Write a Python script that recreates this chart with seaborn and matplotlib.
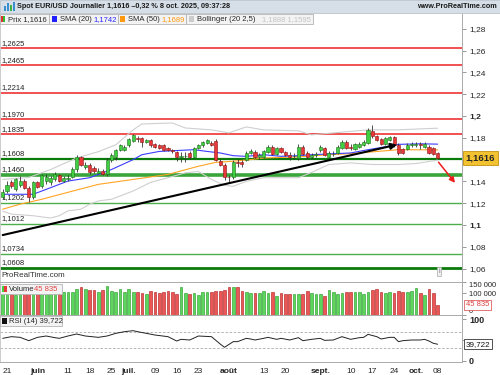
import matplotlib
matplotlib.use("Agg")
import matplotlib.pyplot as plt
import matplotlib.transforms as mtransforms
from matplotlib.patches import Rectangle
import seaborn as sns

# DATA (EUR/USD daily, 21 May -> 8 Oct 2025)

days = list(range(101))

opens = [1.1260, 1.1310, 1.1390, 1.1330, 1.1370, 1.1400, 1.1340, 1.1260, 1.1390, 1.1360,
         1.1400, 1.1390, 1.1420, 1.1460, 1.1400, 1.1425, 1.1445, 1.1510, 1.1620, 1.1530,
         1.1555, 1.1525, 1.1480, 1.1495, 1.1465, 1.1600, 1.1620, 1.1690, 1.1690, 1.1735,
         1.1770, 1.1800, 1.1800, 1.1765, 1.1780, 1.1740, 1.1735, 1.1735, 1.1710, 1.1690,
         1.1670, 1.1625, 1.1630, 1.1664, 1.1627, 1.1710, 1.1736, 1.1755, 1.1755, 1.1773,
         1.1590, 1.1555, 1.1440, 1.1436, 1.1580, 1.1580, 1.1600, 1.1664, 1.1673, 1.1627,
         1.1627, 1.1673, 1.1718, 1.1655, 1.1710, 1.1673, 1.1645, 1.1630, 1.1618, 1.1718,
         1.1664, 1.1627, 1.1640, 1.1690, 1.1710, 1.1627, 1.1650, 1.1664, 1.1710, 1.1764,
         1.1720, 1.1700, 1.1720, 1.1736, 1.1755, 1.1864, 1.1818, 1.1790, 1.1745, 1.1780,
         1.1810, 1.1736, 1.1700, 1.1700, 1.1730, 1.1736, 1.1745, 1.1720, 1.1718, 1.1710,
         1.1664]
highs = [1.1330, 1.1400, 1.1410, 1.1430, 1.1450, 1.1420, 1.1360, 1.1400, 1.1400, 1.1470,
         1.1470, 1.1450, 1.1490, 1.1470, 1.1450, 1.1460, 1.1530, 1.1640, 1.1630, 1.1580,
         1.1570, 1.1540, 1.1520, 1.1510, 1.1615, 1.1660, 1.1700, 1.1745, 1.1730, 1.1795,
         1.1835, 1.1820, 1.1810, 1.1790, 1.1790, 1.1750, 1.1745, 1.1740, 1.1720, 1.1700,
         1.1680, 1.1670, 1.1670, 1.1680, 1.1720, 1.1745, 1.1775, 1.1790, 1.1770, 1.1790,
         1.1610, 1.1570, 1.1460, 1.1600, 1.1610, 1.1600, 1.1675, 1.1700, 1.1690, 1.1660,
         1.1690, 1.1730, 1.1730, 1.1720, 1.1720, 1.1680, 1.1670, 1.1660, 1.1740, 1.1730,
         1.1680, 1.1660, 1.1670, 1.1730, 1.1720, 1.1680, 1.1675, 1.1730, 1.1780, 1.1780,
         1.1740, 1.1755, 1.1760, 1.1780, 1.1890, 1.1918, 1.1830, 1.1800, 1.1810, 1.1820,
         1.1820, 1.1750, 1.1710, 1.1750, 1.1760, 1.1760, 1.1760, 1.1760, 1.1730, 1.1720,
         1.1670]
lows = [1.1240, 1.1290, 1.1340, 1.1310, 1.1350, 1.1330, 1.1215, 1.1240, 1.1340, 1.1340,
        1.1380, 1.1370, 1.1400, 1.1390, 1.1390, 1.1400, 1.1430, 1.1490, 1.1540, 1.1510,
        1.1470, 1.1480, 1.1470, 1.1460, 1.1450, 1.1580, 1.1600, 1.1680, 1.1680, 1.1720,
        1.1760, 1.1760, 1.1720, 1.1750, 1.1720, 1.1710, 1.1700, 1.1680, 1.1680, 1.1660,
        1.1590, 1.1580, 1.1580, 1.1610, 1.1615, 1.1700, 1.1720, 1.1745, 1.1725, 1.1590,
        1.1540, 1.1410, 1.1395, 1.1420, 1.1530, 1.1530, 1.1590, 1.1650, 1.1615, 1.1610,
        1.1615, 1.1665, 1.1640, 1.1640, 1.1660, 1.1630, 1.1600, 1.1610, 1.1600, 1.1640,
        1.1610, 1.1605, 1.1620, 1.1670, 1.1635, 1.1610, 1.1630, 1.1650, 1.1700, 1.1700,
        1.1690, 1.1690, 1.1710, 1.1725, 1.1745, 1.1800, 1.1770, 1.1730, 1.1730, 1.1770,
        1.1720, 1.1645, 1.1650, 1.1690, 1.1715, 1.1720, 1.1700, 1.1710, 1.1650, 1.1640,
        1.1605]
closes = [1.1300, 1.1370, 1.1360, 1.1420, 1.1400, 1.1340, 1.1260, 1.1390, 1.1350, 1.1460,
          1.1445, 1.1430, 1.1470, 1.1400, 1.1435, 1.1435, 1.1510, 1.1620, 1.1555, 1.1555,
          1.1485, 1.1495, 1.1500, 1.1470, 1.1600, 1.1645, 1.1690, 1.1735, 1.1720, 1.1790,
          1.1825, 1.1790, 1.1760, 1.1780, 1.1730, 1.1720, 1.1710, 1.1690, 1.1690, 1.1675,
          1.1620, 1.1636, 1.1630, 1.1627, 1.1710, 1.1736, 1.1764, 1.1780, 1.1736, 1.1600,
          1.1555, 1.1436, 1.1436, 1.1580, 1.1570, 1.1560, 1.1664, 1.1680, 1.1627, 1.1645,
          1.1680, 1.1718, 1.1655, 1.1710, 1.1673, 1.1645, 1.1627, 1.1636, 1.1718, 1.1650,
          1.1627, 1.1645, 1.1655, 1.1718, 1.1645, 1.1664, 1.1655, 1.1718, 1.1764, 1.1710,
          1.1710, 1.1745, 1.1745, 1.1764, 1.1873, 1.1818, 1.1780, 1.1745, 1.1800, 1.1810,
          1.1736, 1.1664, 1.1664, 1.1736, 1.1740, 1.1745, 1.1736, 1.1745, 1.1664, 1.1655,
          1.1616]

# volume in thousands
volumes = [108, 101, 109, 92, 112, 107, 115, 108, 105, 109,
           101, 107, 112, 105, 104, 104, 104, 118, 130, 120,
           115, 115, 104, 115, 134, 111, 104, 120, 107, 118,
           107, 104, 100, 96, 111, 104, 100, 104, 109, 104,
           96, 130, 100, 96, 100, 92, 104, 104, 104, 111,
           111, 115, 130, 130, 130, 111, 107, 100, 100, 100,
           111, 100, 104, 89, 100, 96, 96, 96, 96, 96,
           111, 100, 96, 96, 89, 115, 104, 96, 100, 104,
           104, 104, 107, 96, 107, 115, 120, 104, 100, 104,
           100, 111, 104, 104, 111, 122, 100, 92, 118, 100,
           45.835]

sma20_days = [0, 7, 9, 15, 20, 22, 25, 30, 32, 36, 41, 44, 47, 50, 53, 56, 60, 64, 68, 71,
              75, 80, 84, 88, 91, 96, 100]
sma20 = [1.1282, 1.1282, 1.1312, 1.1403, 1.1434, 1.1464, 1.1509, 1.1600, 1.1645, 1.1675,
         1.1685, 1.1691, 1.1675, 1.1661, 1.1636, 1.1630, 1.1645, 1.1630, 1.1636, 1.1645,
         1.1652, 1.1661, 1.1691, 1.1718, 1.1740, 1.1745, 1.1742]

sma50_days = [0, 4, 9, 15, 22, 30, 38, 45, 49, 53, 57, 60, 68, 75, 80, 91, 100]
sma50 = [1.1145, 1.1191, 1.1236, 1.1300, 1.1373, 1.1418, 1.1464, 1.1539, 1.1575, 1.1585,
         1.1600, 1.1615, 1.1625, 1.1645, 1.1655, 1.1691, 1.1689]

boll_up_days = [0, 6, 11, 17, 22, 26, 30, 32, 39, 42, 48, 52, 56, 60, 68, 71, 76, 84, 91, 96, 100]
boll_up = [1.1418, 1.1436, 1.1509, 1.1615, 1.1673, 1.1736, 1.1873, 1.1927, 1.1936, 1.1890,
           1.1873, 1.1845, 1.1900, 1.1873, 1.1864, 1.1827, 1.1845, 1.1873, 1.1873, 1.1882, 1.1888]

boll_low_days = [0, 2, 7, 11, 13, 15, 18, 20, 22, 25, 30, 34, 38, 42, 45, 48, 51, 53, 56, 60,
                 68, 71, 75, 80, 85, 91, 95, 100]
boll_low = [1.1127, 1.1100, 1.1085, 1.1064, 1.1085, 1.1130, 1.1145, 1.1191, 1.1221, 1.1236,
            1.1312, 1.1391, 1.1434, 1.1479, 1.1491, 1.1418, 1.1364, 1.1355, 1.1400, 1.1434,
            1.1434, 1.1482, 1.1555, 1.1570, 1.1555, 1.1555, 1.1564, 1.1595]

rsi_days = [0, 2, 4, 6, 8, 10, 12, 13, 15, 17, 19, 22, 24, 26, 28, 30, 31, 33, 35, 38,
            40, 41, 43, 45, 48, 50, 51, 53, 54, 56, 57, 58, 60, 61, 63, 64, 66, 68, 69, 70,
            71, 73, 74, 76, 77, 78, 80, 82, 83, 84, 86, 87, 89, 90, 91, 92, 94, 96, 97, 98,
            99, 100]
rsi = [53.9, 57.9, 56.3, 48.3, 56.3, 59.5, 55.5, 53.9, 59.5, 64.3, 59.5, 56.3, 59.5, 65.9,
       69.9, 72.3, 69.9, 65.9, 61.9, 57.9, 47.5, 51.5, 49.9, 59.5, 57.9, 40.3, 32.3, 45.9,
       45.9, 53.9, 52.3, 49.9, 53.9, 56.3, 51.5, 53.9, 49.9, 55.5, 48.3, 49.9, 51.5, 53.9,
       49.1, 49.9, 53.9, 57.9, 51.5, 55.5, 56.3, 63.5, 57.9, 52.3, 56.3, 56.3, 45.9, 48.3,
       49.9, 49.9, 51.5, 47.5, 42.0, 39.7]

res_levels = [1.2625, 1.2465, 1.2214, 1.1970, 1.1835]
sup_levels = [1.1608, 1.1460, 1.1202, 1.1012, 1.0734, 1.0608]

trend_days = [-0.62, 91.3]
trend_prices = [1.0902, 1.1743]
target_days = [99.8, 104.4]
target_prices = [1.1596, 1.1367]

price_ticks = [1.06, 1.08, 1.1, 1.12, 1.14, 1.16, 1.18, 1.2, 1.22, 1.24, 1.26, 1.28]
price_labels = ["1,06", "1,08", "1,1", "1,12", "1,14", "", "1,18", "1,2", "1,22", "1,24", "1,26", "1,28"]

date_ticks = [0, 8, 15, 20, 25, 29, 35, 40, 45, 52, 60, 65, 73, 80, 85, 90, 95, 100]
date_labels = ["21", "juin", "11", "18", "25", "juil.", "09", "16", "23", "août", "13", "20",
               "sept.", "10", "17", "24", "oct.", "08"]
month_labels = ["juin", "juil.", "août", "sept.", "oct."]

# STYLE

sns.set_style("white")
plt.rcParams["font.family"] = ["Liberation Sans", "DejaVu Sans"]

W, H = 500, 375


def rect(top, bottom, left=0, right=462):
    return [left / W, 1 - bottom / H, (right - left) / W, (bottom - top) / H]


def fp(x, y):
    return x / W, 1 - y / H


fig = plt.figure(figsize=(5, 3.75), dpi=100)
fig.patch.set_facecolor("white")

ax = fig.add_axes(rect(14, 282))
axv = fig.add_axes(rect(282, 315), sharex=ax)
axr = fig.add_axes(rect(315, 362), sharex=ax)

UP, DOWN = "#3fcf3f", "#e8383a"
UP_EDGE, DOWN_EDGE = "#1f6f1f", "#8a1515"

# HORIZONTAL LEVELS

lab_tr = mtransforms.blended_transform_factory(ax.transAxes, ax.transData)
for lv in res_levels:
    ax.axhline(lv, color="#ee2020", lw=1.1, zorder=1)
    ax.text(0.004, lv + 0.0012, f"{lv:.4f}".replace(".", ","), transform=lab_tr,
            fontsize=5.5, va="bottom", ha="left", color="#222222")
sup_style = {1.1608: ("#0a7a0a", 1.6), 1.1460: ("#3aa53a", 2.6), 1.0608: ("#0a7a0a", 2.0)}
for lv in sup_levels:
    c, w = sup_style.get(lv, ("#4cae4c", 1.0))
    ax.axhline(lv, color=c, lw=w, zorder=1)
    ax.text(0.004, lv + 0.0016, f"{lv:.4f}".replace(".", ","), transform=lab_tr,
            fontsize=5.5, va="bottom", ha="left", color="#222222")

# INDICATORS

sns.lineplot(x=boll_up_days, y=boll_up, ax=ax, color="#cfcfcf", lw=0.8, zorder=2)
sns.lineplot(x=boll_low_days, y=boll_low, ax=ax, color="#cfcfcf", lw=0.8, zorder=2)
sns.lineplot(x=sma50_days, y=sma50, ax=ax, color="#ffa424", lw=0.8, zorder=2)
sns.lineplot(x=sma20_days, y=sma20, ax=ax, color="#3c3cff", lw=0.8, zorder=2)

# CANDLES

for d, o, h, l, c in zip(days, opens, highs, lows, closes):
    up = c >= o
    ax.vlines(d, l, h, color="#333333", lw=0.6, zorder=3)
    ax.bar(d, max(abs(c - o), 0.0004), bottom=min(o, c), width=0.72,
           color=UP if up else DOWN, edgecolor=UP_EDGE if up else DOWN_EDGE,
           lw=0.4, zorder=4)

# TREND LINE + TARGET ARROW

ax.annotate("", xy=(trend_days[1], trend_prices[1]), xytext=(trend_days[0], trend_prices[0]),
            arrowprops=dict(arrowstyle="-|>", color="black", lw=1.5, mutation_scale=9),
            zorder=5)
ax.annotate("", xy=(target_days[1], target_prices[1]), xytext=(target_days[0], target_prices[0]),
            arrowprops=dict(arrowstyle="-|>", color="#ee1c1c", lw=1.1, mutation_scale=8),
            zorder=5)

ax.set_xlim(-0.62, 105.6)
ax.set_ylim(1.0477, 1.2936)
ax.yaxis.tick_right()
ax.set_yticks(price_ticks)
ax.set_yticklabels(price_labels)
for t, lab in zip(ax.get_yticklabels(), price_labels):
    if lab in ("1,1", "1,2"):
        t.set_fontweight("bold")
ax.tick_params(axis="y", length=3, width=0.6, color="#888888", labelsize=6, pad=2)
ax.tick_params(axis="x", length=0, labelbottom=False)

ax.text(1.008, closes[-1], "1,1616", transform=mtransforms.blended_transform_factory(
    ax.transAxes, ax.transData), fontsize=6.8, fontweight="bold", va="center", ha="left",
    bbox=dict(boxstyle="square,pad=0.25", fc="#f2c230", ec="#c09010", lw=0.6),
    clip_on=False, zorder=10)
ax.text(0.004, 0.012, "ProRealTime.com", transform=ax.transAxes, fontsize=5.8,
        color="#333333", va="bottom")
ax.text(0.95, 0.025, "i", transform=ax.transAxes, fontsize=5, color="#777777", ha="center",
        va="bottom", bbox=dict(boxstyle="square,pad=0.15", fc="#eeeeee", ec="#aaaaaa", lw=0.5))

# VOLUME

vcols = [UP if c >= o else DOWN for o, c in zip(opens, closes)]
vedges = ["#2a9a2a" if c >= o else "#b02020" for o, c in zip(opens, closes)]
axv.bar(days, volumes, width=0.62, color=vcols, edgecolor=vedges, lw=0.5, alpha=0.85)
axv.set_ylim(0, 151)
axv.yaxis.tick_right()
axv.set_yticks([0, 100, 150])
axv.set_yticklabels(["0", "100 000", "150 000"])
axv.tick_params(axis="y", length=3, width=0.6, color="#888888", labelsize=5.5, pad=2)
axv.get_yticklabels()[0].set_va("bottom")
axv.get_yticklabels()[2].set_va("top")
axv.tick_params(axis="x", length=0, labelbottom=False)
axv.text(1.008, volumes[-1], "45 835", transform=mtransforms.blended_transform_factory(
    axv.transAxes, axv.transData), fontsize=5.5, color="#e04040", va="center", ha="left",
    bbox=dict(boxstyle="square,pad=0.2", fc="white", ec="#e06060", lw=0.6),
    clip_on=False, zorder=10)

# RSI

axr.axhline(70, color="#aaaaaa", lw=0.6, ls=(0, (3, 2)))
axr.axhline(30, color="#aaaaaa", lw=0.6, ls=(0, (3, 2)))
sns.lineplot(x=rsi_days, y=rsi, ax=axr, color="#222222", lw=0.7)
axr.set_ylim(-3, 110)
axr.yaxis.tick_right()
axr.set_yticks([0, 50, 100])
axr.set_yticklabels(["0", "", "100"])
for t in axr.get_yticklabels():
    t.set_fontweight("bold")
axr.tick_params(axis="y", length=3, width=0.6, color="#888888", labelsize=6.5, pad=2)
axr.text(1.008, rsi[-1], "39,722", transform=mtransforms.blended_transform_factory(
    axr.transAxes, axr.transData), fontsize=5.8, color="#111111", va="center", ha="left",
    bbox=dict(boxstyle="square,pad=0.2", fc="white", ec="#333333", lw=0.6),
    clip_on=False, zorder=10)

axr.set_xticks(date_ticks)
axr.set_xticklabels(date_labels)
for t, lab in zip(axr.get_xticklabels(), date_labels):
    if lab in month_labels:
        t.set_fontweight("bold")
axr.get_xticklabels()[0].set_ha("left")
axr.tick_params(axis="x", length=3, width=0.6, color="#888888", labelsize=6, pad=1.5)
axr.set_xlabel("")
axr.set_ylabel("")
axv.set_ylabel("")
ax.set_ylabel("")
ax.set_xlabel("")
axv.set_xlabel("")

for a in (ax, axv, axr):
    for s in a.spines.values():
        s.set_color("#aaaaaa")
        s.set_linewidth(0.7)
    a.spines["left"].set_color("#cccccc")
ax.spines["top"].set_visible(False)

# PANE LABEL BOXES


def label_box(x0, x1, y0, y1):
    fig.patches.append(Rectangle(fp(x0, y1), (x1 - x0) / W, (y1 - y0) / H,
                                 transform=fig.transFigure, fc="#f3f3f3", ec="#b5b5b5",
                                 lw=0.6, zorder=20))


def swatch(x, y, color, w=5, h=6):
    fig.patches.append(Rectangle(fp(x, y + h / 2), w / W, h / H, transform=fig.transFigure,
                                 fc=color, ec="none", zorder=21))


# volume label
label_box(0, 62, 284, 294)
swatch(1.5, 289, UP, w=2.5)
swatch(4, 289, DOWN, w=2.5)
fig.text(*fp(9, 289.3), "Volume", fontsize=5.5, va="center", zorder=22)
fig.text(*fp(34, 289.3), "45 835", fontsize=5.5, va="center", color="#e04040", zorder=22)
# rsi label
label_box(0, 62, 316, 326)
swatch(1.5, 321, "#111111")
fig.text(*fp(9, 321.3), "RSI (14) 39,722", fontsize=5.5, va="center", zorder=22)

# TITLE BAR + LEGEND

fig.patches.append(Rectangle((0, 1 - 13 / H), 1, 13 / H, transform=fig.transFigure,
                             fc="#d6dfe7", ec="#b9c4ce", lw=0.6, zorder=0))
for bx, bh, bc in [(4, 5, "#3a8fd0"), (7, 8, "#3a8fd0"), (10, 6, "#44b044"), (13, 9, "#3a8fd0")]:
    fig.patches.append(Rectangle(fp(bx, 11), 2 / W, bh / H, transform=fig.transFigure,
                                 fc=bc, ec="none", zorder=1))
fig.text(*fp(17, 6.8), "Spot EUR/USD Journalier 1,1616 \u20130,32 % 8 oct. 2025, 09:37:28",
         fontsize=5.2, fontweight="bold", va="center", color="#1a1a1a")
fig.text(*fp(497, 6.8), "www.ProRealTime.com", fontsize=5.2, fontweight="bold",
         va="center", ha="right", color="#1a1a1a")

label_box(0, 49, 14, 24)
label_box(49, 118, 14, 24)
label_box(118, 186, 14, 24)
label_box(186, 313, 14, 24)
swatch(0.8, 19, "#e23030", w=2)
swatch(2.8, 19, "#33bb33", w=2)
fig.text(*fp(8, 19.3), "Prix 1,1616", fontsize=5.5, va="center", zorder=22)
swatch(52, 19, "#2020ff")
fig.text(*fp(60, 19.3), "SMA (20)", fontsize=5.5, va="center", zorder=22)
fig.text(*fp(93, 19.3), "1,1742", fontsize=5.5, va="center", color="#2a2aff", zorder=22)
swatch(120, 19, "#ff9a10")
fig.text(*fp(128, 19.3), "SMA (50)", fontsize=5.5, va="center", zorder=22)
fig.text(*fp(161, 19.3), "1,1689", fontsize=5.5, va="center", color="#ff9a10", zorder=22)
swatch(189, 19, "#cccccc")
fig.text(*fp(197, 19.3), "Bollinger (20 2,5)", fontsize=5.5, va="center", zorder=22)
fig.text(*fp(262, 19.3), "1,1888 1,1595", fontsize=5.5, va="center", color="#c4c4c4", zorder=22)

fig.savefig("out.png", dpi=100)
